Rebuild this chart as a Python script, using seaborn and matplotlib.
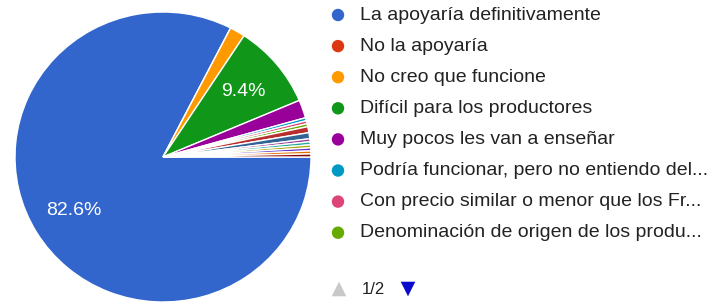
import numpy as np
import matplotlib
matplotlib.use("Agg")
import matplotlib.pyplot as plt
import seaborn as sns

# ─── Data (responses per option) ────────────────────────────────────────────
labels = [
    "La apoyaría definitivamente",
    "No la apoyaría",
    "No creo que funcione",
    "Difícil para los productores",
    "Muy pocos les van a enseñar",
    "Podría funcionar, pero no entiendo del...",
    "Con precio similar o menor que los Fr...",
    "Denominación de origen de los produ...",
]
counts = [246, 0, 5, 28, 6, 1, 1, 1]
# options on legend page 2 (not visible), only their thin slices show
hidden_counts = [2, 2, 1, 1, 1, 1, 1, 1]

colors = ["#3366CC", "#DC3912", "#FF9900", "#109618", "#990099",
          "#0099C6", "#DD4477", "#66AA00"]
hidden_colors = ["#B82E2E", "#316395", "#994499", "#22AA99",
                 "#AAAA11", "#6633CC", "#E67300", "#8B0707"]
page_text = "1/2"

# ─── Style ──────────────────────────────────────────────────────────────────
sns.set_theme(style="white")
plt.rcParams["font.family"] = ["Liberation Sans", "DejaVu Sans"]

W, H = 717, 305
fig = plt.figure(figsize=(W / 100, H / 100), dpi=100)
fig.patch.set_facecolor("white")


def px_axes(x0, y0, x1, y1):
    """Axes placed by pixel box (top-left origin)."""
    return fig.add_axes([x0 / W, (H - y1) / H, (x1 - x0) / W, (y1 - y0) / H])


# ── Pie ──────────────────────────────────────────────────────────────────────
ax = px_axes(15, 12, 311, 302)
all_counts = counts + hidden_counts
all_colors = colors + hidden_colors
total = sum(all_counts)


def pct(p):
    return f"{p:.1f}%" if p > 5 else ""


wedges, _, autotexts = ax.pie(
    all_counts, colors=all_colors, startangle=0, counterclock=False,
    autopct=pct, pctdistance=0.71, radius=1,
    wedgeprops=dict(edgecolor="white", linewidth=1),
    textprops=dict(color="white", fontsize=14),
)
ax.set_xlim(-1, 1)
ax.set_ylim(-1, 1)
ax.set_aspect("auto")
ax.axis("off")

# ── Legend (page 1 of 2) ─────────────────────────────────────────────────────
lg = px_axes(0, 0, W, H)
lg.set_xlim(0, W)
lg.set_ylim(H, 0)
lg.axis("off")

row0, step = 15, 31.1
for i, (lab, col) in enumerate(zip(labels, colors)):
    y = row0 + i * step
    lg.scatter([338], [y], s=80, color=col, edgecolor="none")
    lg.text(360, y, lab, fontsize=14, color="#222222", va="center", ha="left")

lg.scatter([339], [289], marker="^", s=110, color="#c8c8c8", edgecolor="none")
lg.text(362, 289, page_text, fontsize=12, color="#222222", va="center", ha="left")
lg.scatter([408], [289], marker="v", s=110, color="#0a0acc", edgecolor="none")

fig.savefig("out.png", dpi=100, facecolor="white")
